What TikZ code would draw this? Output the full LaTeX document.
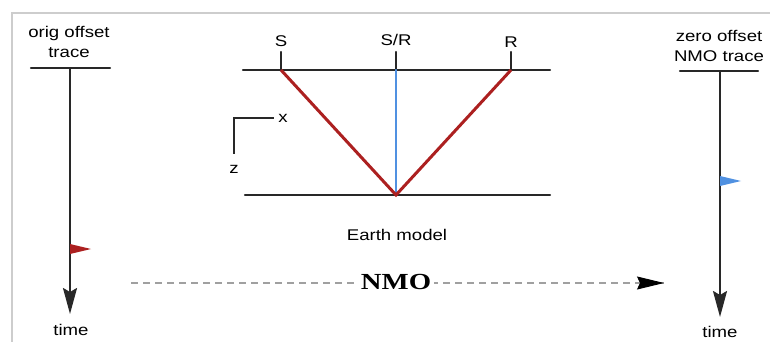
\documentclass[tikz,border=0pt]{standalone}
\usepackage{fontspec}
\setmainfont{Liberation Sans}
\newfontfamily\nmofont{Liberation Serif}
\usetikzlibrary{arrows.meta,calc}
\usepackage{tkz-euclide}
\definecolor{RayClr}{RGB}{172,32,32}
\definecolor{ZeroClr}{RGB}{80,145,225}
\definecolor{FrameClr}{RGB}{205,205,205}
\definecolor{DashClr}{RGB}{160,160,160}
\definecolor{LineClr}{RGB}{40,40,40}
\tikzset{
  lbl/.style={font=\fontsize{15.5}{20}\selectfont,xscale=1.2,inner sep=0pt},
  trace/.style={line width=2.2pt,color=LineClr,-{Stealth[length=26pt,width=14pt,inset=4pt]}},
  bar/.style={line width=2.4pt,color=LineClr}
}

\begin{document}
\begin{tikzpicture}[x=1pt,y=-1pt]
\tkzSetUpLine[line width=2.4pt,color=LineClr]
\useasboundingbox (0,0) rectangle (770,342);

% frame
\draw[FrameClr,line width=1.5pt] (12,342) -- (12,13) -- (770,13);

% orig offset trace
\tkzDefPoint(31,68){LA}
\tkzDefPoint(110,68){LB}
\tkzDefPoint(70,68){LT}
\tkzDefPoint(70,314){LE}
\tkzDefPoint(70,244){LF}
\tkzDrawSegment(LA,LB)
\draw[trace] (LT) -- (LE);
\fill[RayClr] (LF) -- ++(21,5) -- ++(-21,5) -- cycle;
\node[lbl,align=center,anchor=south] (origT) at (69,58) {orig offset\\trace};
\node[lbl,anchor=base] (timeL) at (71,335) {time};

% zero offset NMO trace
\tkzDefPoint(680,71){RA}
\tkzDefPoint(758,71){RB}
\tkzDefPoint(720,71){RT}
\tkzDefPoint(720,317){RE}
\tkzDefPoint(720,176){RF}
\tkzDrawSegment(RA,RB)
\draw[trace] (RT) -- (RE);
\fill[ZeroClr] (RF) -- ++(21,5) -- ++(-21,5) -- cycle;
\node[lbl,align=center,anchor=south] (zeroT) at (719,62) {zero offset\\NMO trace};
\node[lbl,anchor=base] (timeR) at (720,337) {time};

% Earth model
\tkzDefPoint(243,70){SA}
\tkzDefPoint(550,70){SB}
\tkzDefPoint(245,195){BA}
\tkzDefPoint(550,195){BB}
\tkzDefPoint(281,70){S}
\tkzDefPoint(396,70){SR}
\tkzDefPoint(511,70){R}
\tkzDefPoint(396,195){M}
\tkzDefPoint(281,52){St}
\tkzDefPoint(396,52){SRt}
\tkzDefPoint(511,52){Rt}
\tkzDrawSegments(SA,SB BA,BB S,St SR,SRt R,Rt)
\tkzDrawSegment[color=ZeroClr,line width=2.2pt](SR,M)
\draw[RayClr,line width=3pt,line join=miter] (S) -- (M) -- (R);
\node[lbl,anchor=base] (lS) at (281,47) {S};
\node[lbl,anchor=base] (lSR) at (396,46) {S/R};
\node[lbl,anchor=base] (lR) at (511,48) {R};

% axes
\tkzDefPoint(234,118){O}
\tkzDefPoint(273,118){Ox}
\tkzDefPoint(234,153){Oz}
\draw[bar,line cap=rect] (Ox) -- (O) -- (Oz);
\node[lbl,anchor=base] (ax) at (283,122) {x};
\node[lbl,anchor=base] (az) at (234,173) {z};
\node[lbl,anchor=base] (earth) at (397,240) {Earth model};

% NMO
\tkzDefPoint(131,283){NL}
\tkzDefPoint(664,283){NR}
\draw[DashClr,line width=1.2pt,dash pattern=on 7pt off 5pt] (NL) -- (NR);
\draw[line width=1pt,-{Stealth[length=27pt,width=13pt,inset=3pt]}] ($(NR)+(-8,0)$) -- (NR);
\node[fill=white,inner sep=2pt,font=\nmofont\bfseries\fontsize{23}{23}\selectfont,xscale=1.25,anchor=base] (nmo) at (396,289) {NMO};

\end{tikzpicture}
\end{document}
